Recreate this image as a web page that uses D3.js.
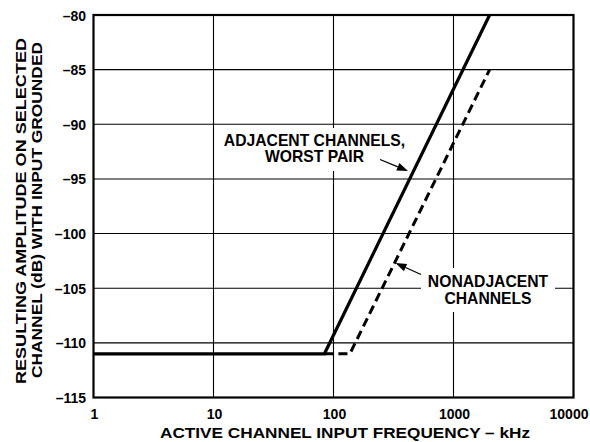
<!DOCTYPE html>
<html><head><meta charset="utf-8">
<script src="https://cdn.jsdelivr.net/npm/d3@7"></script>
<style>
html,body{margin:0;padding:0;background:#fff;}
text{font-family:"Liberation Sans",Arial,sans-serif;font-weight:bold;fill:#000;}
</style></head>
<body><svg id="c" width="590" height="442"></svg>
<script>
// ---- data ----
const xTicks = [1, 10, 100, 1000, 10000];
const yTicks = [-115, -110, -105, -100, -95, -90, -85, -80];
const adjacentFreq = [1, 84, 2000];
const adjacentDb   = [-111, -111, -80];
const nonAdjFreq   = [84, 137, 2000];
const nonAdjDb     = [-111, -111, -85];
const xTitle = "ACTIVE CHANNEL INPUT FREQUENCY – kHz";
const yTitle = ["RESULTING AMPLITUDE ON SELECTED", "CHANNEL (dB) WITH INPUT GROUNDED"];
const adjLabel = ["ADJACENT CHANNELS,", "WORST PAIR"];
const nonAdjLabel = ["NONADJACENT", "CHANNELS"];

const svg = d3.select("#c");
const L = 93.5, R = 573.5, T = 15, B = 397.5;
const x = d3.scaleLog().domain([1, 10000]).range([L, R]);
const y = d3.scaleLinear().domain([-115, -80]).range([B, T]);

// gridlines
const g = svg.append("g");
g.selectAll(".vx").data(xTicks.slice(1, -1)).enter().append("line")
  .attr("x1", d => x(d)).attr("x2", d => x(d)).attr("y1", T).attr("y2", B)
  .attr("stroke", "#000").attr("stroke-width", 1.1);
g.selectAll(".hy").data(yTicks.slice(1, -1)).enter().append("line")
  .attr("y1", d => y(d)).attr("y2", d => y(d)).attr("x1", L).attr("x2", R)
  .attr("stroke", "#000").attr("stroke-width", 1.1);

// white boxes behind labels
svg.append("rect").attr("x", 218).attr("y", 128).attr("width", 190).attr("height", 43).attr("fill", "#fff");
svg.append("rect").attr("x", 421).attr("y", 268).attr("width", 134).attr("height", 44).attr("fill", "#fff");

// frame
svg.append("rect").attr("x", L).attr("y", T).attr("width", R - L).attr("height", B - T)
  .attr("fill", "none").attr("stroke", "#000").attr("stroke-width", 2.2);

// axes labels
const fmt = d => (d < 0 ? "\u2013" + Math.abs(d) : String(d));
const xAxis = d3.axisBottom(x).tickValues(xTicks).tickFormat(d => String(d)).tickSize(0).tickPadding(0);
const xa = svg.append("g").attr("transform", `translate(0,${B})`).call(xAxis);
xa.select(".domain").remove();
xa.selectAll("text").attr("dy", null).attr("y", 21.5).style("font-size", "14px")
  .style("font-family", "'Liberation Sans',Arial,sans-serif").style("font-weight", "bold").attr("fill", "#000")
  .attr("x", d => (d === 10000 ? -5 : 0.5));

const yAxis = d3.axisLeft(y).tickValues(yTicks).tickFormat(fmt).tickSize(0).tickPadding(0);
const ya = svg.append("g").attr("transform", `translate(${L},0)`).call(yAxis);
ya.select(".domain").remove();
ya.selectAll("text").attr("x", -7.5).attr("dy", "0.36em").style("font-size", "14px")
  .style("font-family", "'Liberation Sans',Arial,sans-serif").style("font-weight", "bold").attr("fill", "#000");

// lines
const line = d3.line().x(d => x(d[0])).y(d => y(d[1]));
svg.append("path").datum(nonAdjFreq.map((f, i) => [f, nonAdjDb[i]]))
  .attr("d", line).attr("fill", "none").attr("stroke", "#000").attr("stroke-width", 3)
  .attr("stroke-dasharray", "9,5");
svg.append("path").datum(adjacentFreq.map((f, i) => [f, adjacentDb[i]]))
  .attr("d", line).attr("fill", "none").attr("stroke", "#000").attr("stroke-width", 3.2)
  .attr("stroke-linejoin", "miter");

// annotation text
function label(lines, cx, y0) {
  const t = svg.append("text").attr("text-anchor", "middle").style("font-size", "15.7px");
  lines.forEach((s, i) => t.append("tspan").attr("x", cx).attr("y", y0 + i * 16.5).text(s));
}
label(adjLabel, 314.5, 145.5);
label(nonAdjLabel, 488, 287);

// arrows
function arrow(x1, y1, x2, y2) {
  const ang = Math.atan2(y2 - y1, x2 - x1);
  const len = 11, w = 4;
  const bx = x2 - len * Math.cos(ang), by = y2 - len * Math.sin(ang);
  svg.append("line").attr("x1", x1).attr("y1", y1).attr("x2", bx).attr("y2", by)
    .attr("stroke", "#000").attr("stroke-width", 1.3);
  const px = -Math.sin(ang) * w, py = Math.cos(ang) * w;
  svg.append("path").attr("d", `M${x2},${y2}L${bx + px},${by + py}L${bx - px},${by - py}Z`).attr("fill", "#000");
}
arrow(380, 159.5, 408, 171);
arrow(421, 274.5, 395.5, 263);

// axis titles
svg.append("text").attr("x", 345).attr("y", 437.5).attr("text-anchor", "middle")
  .style("font-size", "14px").attr("textLength", 370).attr("lengthAdjust", "spacingAndGlyphs").text(xTitle);
const yt = svg.append("g").attr("transform", "rotate(-90)");
yt.append("text").attr("x", -211).attr("y", 25.5).attr("text-anchor", "middle")
  .style("font-size", "14px").attr("textLength", 346).attr("lengthAdjust", "spacingAndGlyphs").text(yTitle[0]);
yt.append("text").attr("x", -210).attr("y", 41.5).attr("text-anchor", "middle")
  .style("font-size", "14px").attr("textLength", 336).attr("lengthAdjust", "spacingAndGlyphs").text(yTitle[1]);
</script></body></html>
